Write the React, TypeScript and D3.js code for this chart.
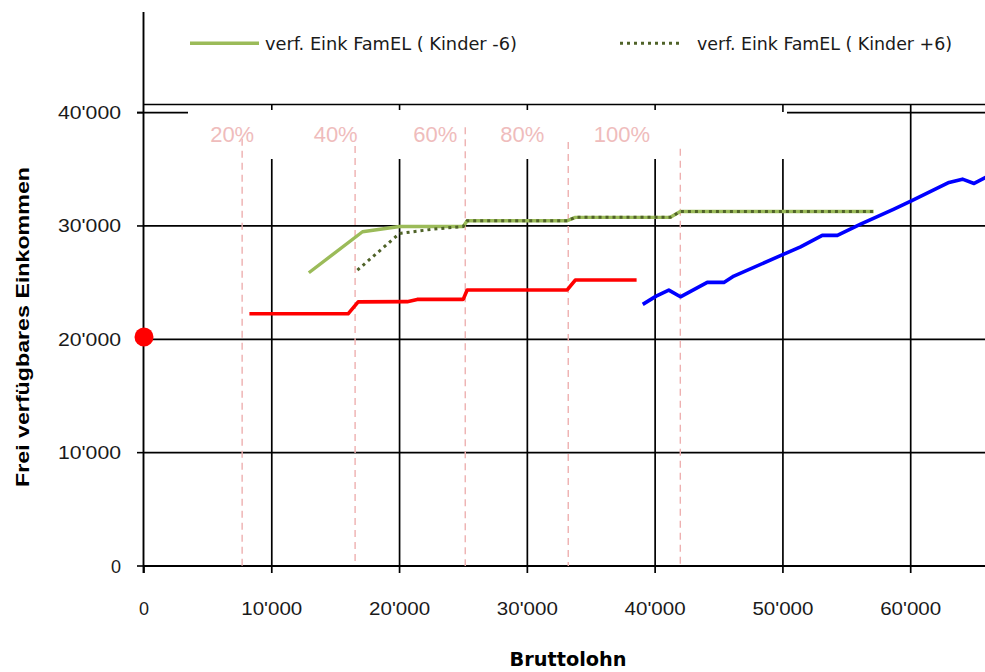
import React from "react";
import * as d3 from "d3";

// ---- data ----
const xTicks = [0, 10000, 20000, 30000, 40000, 50000, 60000];
const yTicks = [0, 10000, 20000, 30000, 40000];
const fmt = (v: number) => (v === 0 ? "0" : `${Math.floor(v / 1000)}'000`);

const redX = [8250, 15970, 16760, 20600, 21380, 24980, 25290, 33120, 33750, 38550];
const redY = [22250, 22250, 23300, 23320, 23520, 23520, 24350, 24350, 25230, 25230];

const blueX = [39030, 40080, 41070, 41980, 44080, 45380, 46160, 50030, 51380, 53080, 54260, 56080, 58690, 60050, 63000, 64050, 64960, 65870, 66600];
const blueY = [23080, 23810, 24340, 23750, 25020, 25020, 25580, 27490, 28160, 29170, 29170, 30160, 31490, 32220, 33840, 34130, 33750, 34280, 34650];

const greenX = [12900, 17100, 20000, 24980, 25290, 33120, 33750, 41190, 41970, 57100];
const greenY = [25870, 29490, 29950, 29950, 30460, 30460, 30760, 30760, 31280, 31280];

const dotX = [16700, 20000, 22500, 24980, 25290, 33120, 33750, 41190, 41970, 57100];
const dotY = [26100, 29340, 29700, 29950, 30460, 30460, 30760, 30760, 31280, 31280];

const pctLabels = ["20%", "40%", "60%", "80%", "100%"];
const pctLabelX = [6900, 15000, 22800, 29600, 37400];
const pctLineX = [7680, 16520, 25140, 33200, 41970];
const pctLineTop = [37700, 37050, 38700, 37400, 36800];

const startPoint = { x: 0, y: 20200 };

export default function App() {
  const x = d3.scaleLinear().domain([0, 60000]).range([144, 910.7]);
  const y = d3.scaleLinear().domain([0, 40000]).range([566, 112.6]);
  const line = d3
    .line<[number, number]>()
    .x((d) => x(d[0]))
    .y((d) => y(d[1]));
  const zip = (a: number[], b: number[]) => a.map((v, i) => [v, b[i]] as [number, number]);

  const W = 985;
  const H = 672;
  const axisFont = "'Liberation Sans', Arial, sans-serif";
  const condFont = "'DejaVu Sans Condensed', 'Liberation Sans Narrow', sans-serif";

  return (
    <svg
      width={W}
      height={H}
      style={{ position: "absolute", left: 0, top: 0, background: "#fff" }}
    >
      <rect width={W} height={H} fill="#fff" />
      {/* horizontal gridlines */}
      {yTicks.filter((t) => t > 0 && t < 40000).map((t) => (
        <line key={"hg" + t} x1={143} x2={W} y1={y(t)} y2={y(t)} stroke="#000" strokeWidth={1.7} />
      ))}
      {/* vertical gridlines */}
      {xTicks.filter((t) => t > 0).map((t) => (
        <line
          key={"vg" + t}
          x1={x(t)}
          x2={x(t)}
          y1={t === 60000 ? 104.5 : 159}
          y2={573}
          stroke="#000"
          strokeWidth={1.7}
        />
      ))}
      {/* top structure */}
      <line x1={143} x2={W} y1={104.5} y2={104.5} stroke="#000" strokeWidth={1.7} />
      <line x1={137} x2={188} y1={112.7} y2={112.7} stroke="#000" strokeWidth={1.7} />
      <line x1={787} x2={W} y1={112.7} y2={112.7} stroke="#000" strokeWidth={1.7} />
      {xTicks.filter((t) => t > 0 && t < 60000).map((t) => (
        <line key={"tt" + t} x1={x(t)} x2={x(t)} y1={104.5} y2={t === 50000 ? 112 : 110} stroke="#000" strokeWidth={1.6} />
      ))}
      {/* axes */}
      <line x1={143.5} x2={143.5} y1={12} y2={573} stroke="#000" strokeWidth={1.9} />
      <line x1={143} x2={W} y1={566} y2={566} stroke="#000" strokeWidth={1.9} />
      {yTicks.map((t) => (
        <line key={"yt" + t} x1={137} x2={143} y1={y(t)} y2={y(t)} stroke="#000" strokeWidth={1.6} />
      ))}
      <line x1={x(0)} x2={x(0)} y1={566} y2={573} stroke="#000" strokeWidth={1.6} />

      {/* tick labels */}
      {yTicks.map((t) => (
        <text
          key={"yl" + t}
          x={121}
          y={y(t) + 6.5}
          textAnchor="end"
          fontFamily={axisFont}
          fontSize={18}
          fill="#1a1a1a"
          {...(t > 0 ? { textLength: 63, lengthAdjust: "spacingAndGlyphs" } : {})}
        >
          {fmt(t)}
        </text>
      ))}
      {xTicks.map((t) => (
        <text
          key={"xl" + t}
          x={x(t)}
          y={615}
          textAnchor="middle"
          fontFamily={axisFont}
          fontSize={18}
          fill="#1a1a1a"
          {...(t > 0 ? { textLength: 61, lengthAdjust: "spacingAndGlyphs" } : {})}
        >
          {fmt(t)}
        </text>
      ))}

      {/* axis titles */}
      <text
        transform={`translate(29,327) rotate(-90)`}
        textAnchor="middle"
        fontFamily={axisFont}
        fontWeight="bold"
        fontSize={19}
        fill="#000"
        textLength={320}
        lengthAdjust="spacingAndGlyphs"
      >
        Frei verfügbares  Einkommen
      </text>
      <text
        x={568}
        y={666}
        textAnchor="middle"
        fontFamily={condFont}
        fontWeight="bold"
        fontSize={20}
        fill="#000"
        textLength={117}
        lengthAdjust="spacingAndGlyphs"
      >
        Bruttolohn
      </text>

      {/* percent markers */}
      {pctLineX.map((v, i) => (
        <line
          key={"pl" + i}
          x1={x(v)}
          x2={x(v)}
          y1={y(pctLineTop[i])}
          y2={566}
          stroke="#eeb0b0"
          strokeWidth={1.4}
          strokeDasharray="7,5"
        />
      ))}
      {pctLabels.map((s, i) => (
        <text
          key={"pt" + i}
          x={x(pctLabelX[i])}
          y={142}
          textAnchor="middle"
          fontFamily={axisFont}
          fontSize={22}
          fill="#efbcbc"
        >
          {s}
        </text>
      ))}

      {/* series */}
      <path d={line(zip(redX, redY)) || ""} fill="none" stroke="#ff0000" strokeWidth={3.6} strokeLinejoin="round" />
      <path d={line(zip(blueX, blueY)) || ""} fill="none" stroke="#0000ff" strokeWidth={3.6} strokeLinejoin="round" />
      <path d={line(zip(greenX, greenY)) || ""} fill="none" stroke="#9bbb59" strokeWidth={3.4} strokeLinejoin="round" />
      <path
        d={line(zip(dotX, dotY)) || ""}
        fill="none"
        stroke="#4f6228"
        strokeWidth={3}
        strokeDasharray="3,4"
      />
      <circle cx={x(startPoint.x)} cy={y(startPoint.y)} r={9.5} fill="#ff0000" />

      {/* legend */}
      <line x1={190} x2={259} y1={43.3} y2={43.3} stroke="#9bbb59" strokeWidth={3.4} />
      <text
        x={265}
        y={50}
        fontFamily={condFont}
        fontSize={18}
        fill="#1a1a1a"
        textLength={252}
        lengthAdjust="spacingAndGlyphs"
      >
        verf. Eink FamEL ( Kinder -6)
      </text>
      <line x1={620} x2={682} y1={43.3} y2={43.3} stroke="#4f6228" strokeWidth={3} strokeDasharray="3,4" />
      <text
        x={697}
        y={50}
        fontFamily={condFont}
        fontSize={18}
        fill="#1a1a1a"
        textLength={255}
        lengthAdjust="spacingAndGlyphs"
      >
        verf. Eink FamEL ( Kinder +6)
      </text>
    </svg>
  );
}
